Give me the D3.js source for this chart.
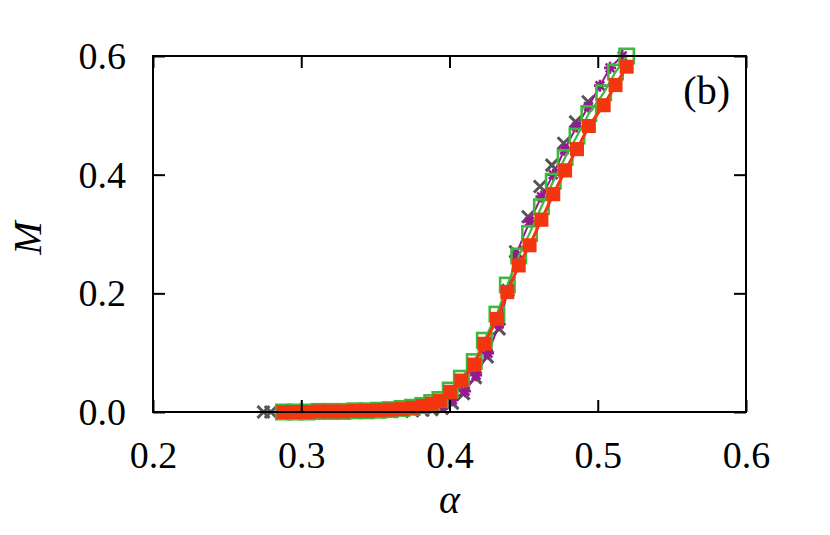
<!DOCTYPE html>
<html>
<head>
<meta charset="utf-8">
<script src="https://cdn.jsdelivr.net/npm/d3@7"></script>
<style>
	body { margin: 0; background: #fff; }
	text { font-family: "Liberation Serif", "DejaVu Serif", serif; fill: #000; }
</style>
</head>
<body>
<svg id="chart" width="830" height="535"></svg>
<script>
// data (alpha, M)
const alphaGray = [0.2745, 0.2795, 0.288, 0.296, 0.304, 0.312, 0.320, 0.328, 0.336, 0.344, 0.352, 0.360, 0.368, 0.375, 0.382, 0.388,
	0.395, 0.402, 0.4095, 0.4175, 0.4255, 0.4335, 0.4395, 0.4445, 0.453, 0.461, 0.469, 0.477, 0.485, 0.4935];
const mGray = [0, 0, 0, 0, 0, 0, 0, 0, 0, 0, 0, 0.001, 0.001, 0.002, 0.003, 0.004,
	0.006, 0.015, 0.031, 0.058, 0.093, 0.140, 0.205, 0.270, 0.329, 0.380, 0.416, 0.453, 0.489, 0.523];

const alphaPurple = [0.288, 0.296, 0.304, 0.312, 0.320, 0.328, 0.336, 0.344, 0.352, 0.360, 0.368, 0.375, 0.382, 0.388,
	0.395, 0.402, 0.4105, 0.418, 0.426, 0.4335, 0.4395, 0.4445, 0.454, 0.462, 0.470, 0.4775, 0.4858, 0.4937, 0.5015, 0.5083, 0.5165];
const mPurple = [0, 0, 0, 0.001, 0.001, 0.001, 0.001, 0.002, 0.002, 0.003, 0.004, 0.005, 0.007, 0.010,
	0.010, 0.020, 0.035, 0.062, 0.099, 0.148, 0.205, 0.263, 0.321, 0.363, 0.400, 0.442, 0.481, 0.515, 0.550, 0.580, 0.600];

const alphaSq = [0.288, 0.296, 0.304, 0.312, 0.320, 0.328, 0.336, 0.344, 0.352, 0.360, 0.368, 0.375, 0.382, 0.388,
	0.3935, 0.4005, 0.408, 0.4167, 0.4235, 0.432, 0.439, 0.4467, 0.454, 0.462, 0.470, 0.478, 0.486, 0.494, 0.504, 0.512, 0.5195];
const mGreen = [0, 0, 0, 0.001, 0.001, 0.001, 0.002, 0.002, 0.003, 0.004, 0.006, 0.008, 0.011, 0.016,
	0.021, 0.037, 0.057, 0.085, 0.121, 0.165, 0.214, 0.263, 0.301, 0.346, 0.389, 0.429, 0.465, 0.503, 0.538, 0.573, 0.600];
const mRed = [0, 0, 0, 0.001, 0.001, 0.001, 0.002, 0.002, 0.003, 0.004, 0.005, 0.007, 0.010, 0.014,
	0.019, 0.034, 0.053, 0.080, 0.115, 0.157, 0.202, 0.247, 0.281, 0.324, 0.367, 0.407, 0.443, 0.482, 0.517, 0.551, 0.582];

const xTicks = [0.2, 0.3, 0.4, 0.5, 0.6];
const yTicks = [0.0, 0.2, 0.4, 0.6];

const cGray = "#555555", cPurple = "#941a8f", cGreen = "#3dba3d", cRed = "#f3360f";

var svg = d3.select("#chart");

var x = d3.scaleLinear().domain([0.2, 0.6]).range([153, 746]);
var y = d3.scaleLinear().domain([0, 0.6]).range([412, 56]);

var zip = (a, m) => a.map((d, i) => ({ a: d, m: m[i] }));
var gray = zip(alphaGray, mGray);
var purple = zip(alphaPurple, mPurple);
var green = zip(alphaSq, mGreen);
var red = zip(alphaSq, mRed);

var line = d3.line().x(d => x(d.a)).y(d => y(d.m));

var gData = svg.append("g");

// gray crosses
gData.append("g")
	.selectAll("path")
	.data(gray)
	.enter()
	.append("path")
	.attr("d", d => {
		var cx = x(d.a), cy = y(d.m), s = 6;
		return `M${cx - s},${cy - s}L${cx + s},${cy + s}M${cx - s},${cy + s}L${cx + s},${cy - s}`;
	})
	.attr("stroke", cGray)
	.attr("stroke-width", 3)
	.attr("fill", "none");

// purple asterisks + line
gData.append("path")
	.attr("d", line(purple))
	.attr("stroke", cPurple)
	.attr("stroke-width", 2)
	.attr("fill", "none");
gData.append("g")
	.selectAll("path")
	.data(purple)
	.enter()
	.append("path")
	.attr("d", d => {
		var cx = x(d.a), cy = y(d.m), s = 6, t = 4.3;
		return `M${cx - s},${cy}L${cx + s},${cy}M${cx},${cy - s}L${cx},${cy + s}` +
			`M${cx - t},${cy - t}L${cx + t},${cy + t}M${cx - t},${cy + t}L${cx + t},${cy - t}`;
	})
	.attr("stroke", cPurple)
	.attr("stroke-width", 2.6)
	.attr("fill", "none");

// green open squares + line
gData.append("path")
	.attr("d", line(green))
	.attr("stroke", cGreen)
	.attr("stroke-width", 2.2)
	.attr("fill", "none");
gData.append("g")
	.selectAll("rect")
	.data(green)
	.enter()
	.append("rect")
	.attr("x", d => x(d.a) - 7.2)
	.attr("y", d => y(d.m) - 7.2)
	.attr("width", 14.4)
	.attr("height", 14.4)
	.attr("stroke", cGreen)
	.attr("stroke-width", 2.6)
	.attr("fill", "none");

// red filled squares + line
gData.append("path")
	.attr("d", line(red))
	.attr("stroke", cRed)
	.attr("stroke-width", 3)
	.attr("fill", "none");
gData.append("g")
	.selectAll("rect")
	.data(red)
	.enter()
	.append("rect")
	.attr("x", d => x(d.a) - 7)
	.attr("y", d => y(d.m) - 7)
	.attr("width", 14)
	.attr("height", 14)
	.attr("fill", cRed);

// axes with inward ticks on all sides
var fmt = d3.format(".1f");
var tick = 12;

var axB = svg.append("g").attr("transform", "translate(0,412)")
	.call(d3.axisBottom(x).tickValues(xTicks).tickFormat(fmt).tickSizeInner(-tick).tickSizeOuter(0).tickPadding(29));
var axT = svg.append("g").attr("transform", "translate(0,56)")
	.call(d3.axisTop(x).tickValues(xTicks).tickFormat("").tickSizeInner(-tick).tickSizeOuter(0));
var axL = svg.append("g").attr("transform", "translate(153,0)")
	.call(d3.axisLeft(y).tickValues(yTicks).tickFormat(fmt).tickSizeInner(-tick).tickSizeOuter(0).tickPadding(27));
var axR = svg.append("g").attr("transform", "translate(746,0)")
	.call(d3.axisRight(y).tickValues(yTicks).tickFormat("").tickSizeInner(-tick).tickSizeOuter(0));

[axB, axT, axL, axR].forEach(g => {
	g.select(".domain").remove();
	g.selectAll(".tick line").attr("stroke", "#000").attr("stroke-width", 2);
	g.selectAll(".tick text")
		.style("font-family", '"Liberation Serif", serif')
		.style("font-size", "38px")
		.attr("fill", "#000");
});
axL.selectAll(".tick text").attr("dy", "0.33em");

// frame
svg.append("rect")
	.attr("x", 153)
	.attr("y", 56)
	.attr("width", 746 - 153)
	.attr("height", 412 - 56)
	.attr("fill", "none")
	.attr("stroke", "#000")
	.attr("stroke-width", 2);

// labels
svg.append("text")
	.attr("x", x(0.4))
	.attr("y", 513)
	.attr("text-anchor", "middle")
	.style("font-size", "40px")
	.style("font-style", "italic")
	.text("α");

svg.append("text")
	.attr("transform", "translate(41,238) rotate(-90)")
	.attr("text-anchor", "middle")
	.style("font-size", "40px")
	.style("font-style", "italic")
	.text("M");

svg.append("text")
	.attr("x", 730)
	.attr("y", 104)
	.attr("text-anchor", "end")
	.style("font-size", "40px")
	.text("(b)");
</script>
</body>
</html>
